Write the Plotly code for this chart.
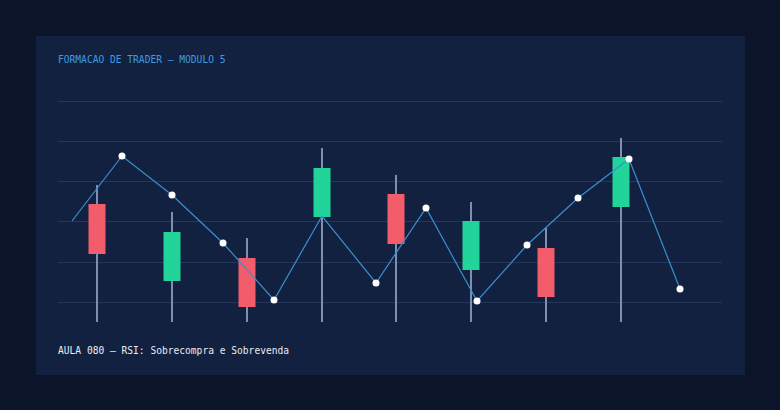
import plotly.graph_objects as go

# candle positions and prices (value = px distance above baseline)
candle_x = [97, 172, 247, 322, 396, 471, 546, 621]
c_open = [118, 41, 64, 105, 128, 52, 74, 115]
c_close = [68, 90, 15, 154, 78, 101, 25, 165]
c_high = [137, 110, 84, 174, 147, 120, 94, 184]
c_low = [0, 0, 0, 0, 0, 0, 0, 0]

line_x = [72, 122, 172, 223, 274, 322, 376, 426, 477, 527, 578, 629, 680]
line_y = [101, 166, 127, 79, 22, 106, 39, 114, 21, 77, 124, 163, 33]
dot_mask = [False, True, True, True, True, False, True, True, True, True, True, True, True]

grid_vals = [20, 60, 101, 141, 181, 221]

RED = "#f25c6b"
GREEN = "#22d49a"

fig = go.Figure()
fig.add_trace(go.Bar(x=candle_x, y=[h - l for h, l in zip(c_high, c_low)], base=c_low,
                     width=1.4, marker=dict(color="#7f8fb0", line_width=0), hoverinfo="skip"))
cols = [GREEN if c > o else RED for o, c in zip(c_open, c_close)]
fig.add_trace(go.Bar(x=candle_x, y=[abs(c - o) for o, c in zip(c_open, c_close)],
                     base=[min(o, c) for o, c in zip(c_open, c_close)],
                     width=17, marker=dict(color=cols, line_width=0)))
fig.add_trace(go.Scatter(x=line_x, y=line_y, mode="lines",
                         line=dict(color="#3b8fd0", width=1.2)))
fig.add_trace(go.Scatter(x=[x for x, m in zip(line_x, dot_mask) if m],
                         y=[y for y, m in zip(line_y, dot_mask) if m], mode="markers",
                         marker=dict(color="white", size=7)))

fig.update_layout(
    width=780, height=410, showlegend=False, barmode="overlay",
    paper_bgcolor="#0b1429", plot_bgcolor="rgba(0,0,0,0)",
    margin=dict(l=58, r=58, t=98, b=88),
    xaxis=dict(range=[58, 722], visible=False, fixedrange=True),
    yaxis=dict(range=[0, 224], tickvals=grid_vals, showticklabels=False,
               gridcolor="#24365c", gridwidth=1, zeroline=False, fixedrange=True),
    shapes=[dict(type="rect", xref="paper", yref="paper", layer="below",
                 x0=-22 / 664, x1=1 + 23 / 664, y0=-53 / 224, y1=1 + 62 / 224,
                 fillcolor="#12213f", line_width=0)],
    annotations=[
        dict(text="FORMACAO DE TRADER — MODULO 5", xref="paper", yref="paper", x=-2 / 664, y=1 + 38 / 224,
             xanchor="left", yanchor="middle", showarrow=False,
             font=dict(family="DejaVu Sans Mono", size=9.6, color="#3d9be3")),
        dict(text="AULA 080 — RSI: Sobrecompra e Sobrevenda", xref="paper", yref="paper", x=-2 / 664, y=-28 / 224,
             xanchor="left", yanchor="middle", showarrow=False,
             font=dict(family="DejaVu Sans Mono", size=9.6, color="#e8ecf4")),
    ],
)
fig.write_html("out.html", config={"displayModeBar": False},
               post_script="document.body.style.margin='0';document.body.style.background='#0b1429';")
